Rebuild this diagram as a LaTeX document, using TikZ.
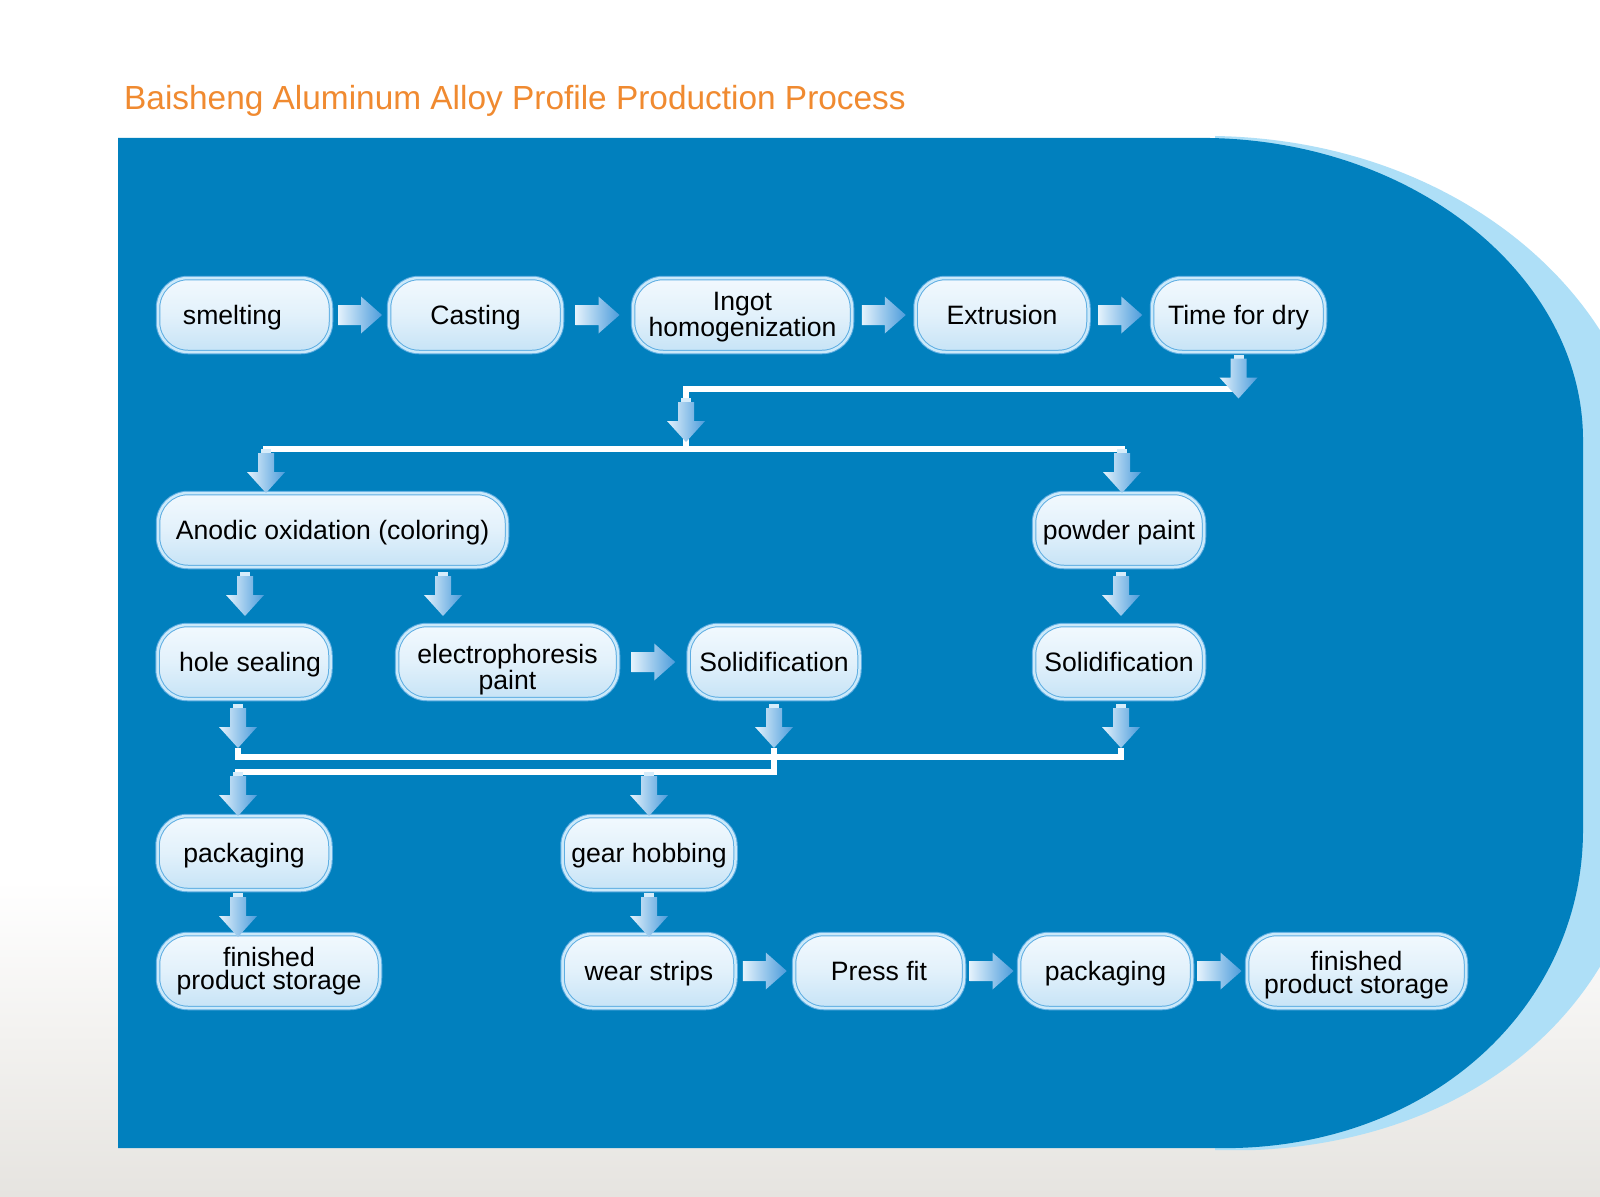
\documentclass[tikz,border=0pt]{standalone}
\usepackage{fontspec}
\setmainfont{Liberation Sans}
\usetikzlibrary{calc,shadings}

\definecolor{panel}{HTML}{0180BE}
\definecolor{panellt}{HTML}{AEDFF7}
\definecolor{titleor}{HTML}{F08A30}
\definecolor{boxout}{HTML}{5FAEE2}
\definecolor{boxrim}{HTML}{CBE9FA}
\definecolor{boxtop}{HTML}{F2F9FE}
\definecolor{boxmid}{HTML}{E2F1FB}
\definecolor{boxbot}{HTML}{C6E3F6}
\definecolor{arrL}{HTML}{E4F2FC}
\definecolor{arrR}{HTML}{4C9CDB}
\definecolor{arrstub}{HTML}{D6ECFA}
\definecolor{bggrey}{HTML}{E6E4E0}

\begin{document}
\begin{tikzpicture}[x=1pt,y=-1pt,
  box/.style={rounded corners=30pt, minimum height=74pt, minimum width=173pt,
    inner sep=0pt, align=center, draw=boxout, line width=1pt, double=boxrim,
    double distance=2.5pt, top color=boxtop, bottom color=boxbot, middle color=boxmid,
    font=\fontsize{26.6}{23}\selectfont, text=black, text height=19pt, text depth=0pt},
  wline/.style={draw=white, line width=6pt, line join=miter},
  harrow/.pic={
    \shade[left color=arrL, right color=arrR]
      (-22,-10) -- (1,-10) -- (1,-18.5) -- (22,0) -- (1,18.5) -- (1,10) -- (-22,10) -- cycle;
  },
  darrow/.pic={
    \fill[arrstub] (-5,0) rectangle (5,5);
    \shade[left color=arrL, right color=arrR]
      (-8,4) -- (8,4) -- (8,23) -- (19,23) -- (0,44) -- (-19,23) -- (-8,23) -- cycle;
  }
]
\useasboundingbox (0,0) rectangle (1600,1196);
\begin{scope}
  \clip (0,0) rectangle (1600,1196);
  \fill[white] (0,0) rectangle (1600,1196);
  \shade[top color=white, bottom color=bggrey] (0,880) rectangle (1600,1196);
  \fill[panellt] (1215,136) .. controls (1460,140) and (1640,300) .. (1650,480)
     -- (1650,800) .. controls (1640,1000) and (1480,1140) .. (1255,1150) -- (1215,1150) -- cycle;
  \fill[panel] (118,138) -- (1210,138) .. controls (1420,142) and (1583,280) .. (1583,440)
     -- (1583,830) .. controls (1583,1000) and (1440,1143) .. (1235,1148) -- (118,1148) -- cycle;
\end{scope}

\node[anchor=base west, text=titleor, font=\fontsize{33.4}{36}\selectfont, inner sep=0pt]
  (title) at (124,110) {Baisheng Aluminum Alloy Profile Production Process};

% row 1
\node[box] (smelt) at (244.5,315) {\hspace*{-24pt}smelting};
\node[box] (cast) at (475.5,315) {Casting};
\node[box, minimum width=219pt, text height=43pt] (ingot) at (742.5,315) {Ingot\\homogenization};
\node[box] (extr) at (1002,315) {Extrusion};
\node[box] (tdry) at (1238.5,315) {Time for dry};
% row 2
\node[box, minimum width=349pt] (anod) at (332.5,530) {Anodic oxidation (coloring)};
\node[box, minimum width=170pt] (powd) at (1119,530) {powder paint};
% row 3
\node[box] (hole) at (244,662) {\hspace*{12pt}hole sealing};
\node[box, minimum width=221pt, text height=55pt] (elec) at (507.5,662) {electrophoresis\\paint};
\node[box, minimum width=171pt] (soli) at (774,662) {Solidification};
\node[box, minimum width=170pt] (solii) at (1119,662) {Solidification};
% row 4
\node[box] (packi) at (244,853) {packaging};
\node[box] (gear) at (649,853) {gear hobbing};
% row 5
\node[box, minimum width=222pt, text height=37pt] (fini) at (269,971) {finished\\product storage};
\node[box] (wear) at (649,971) {wear strips};
\node[box, minimum width=170pt] (press) at (879,971) {Press fit};
\node[box] (packii) at (1105.5,971) {packaging};
\node[box, minimum width=219pt, text height=45pt] (finii) at (1356.5,971) {finished\\product storage};

% horizontal arrows
\pic at ($(smelt.east)!.5!(cast.west)$) {harrow};
\pic at ($(cast.east)!.5!(ingot.west)$) {harrow};
\pic at ($(ingot.east)!.5!(extr.west)$) {harrow};
\pic at ($(extr.east)!.5!(tdry.west)$) {harrow};
\pic at ($(elec.east)!.5!(soli.west)$) {harrow};
\pic at ($(wear.east)!.5!(press.west)$) {harrow};
\pic at ($(press.east)!.5!(packii.west)$) {harrow};
\pic at ($(packii.east)!.5!(finii.west)$) {harrow};

% junction coordinates
\coordinate (ja) at (1238,389);
\coordinate (jb) at (686,389);
\coordinate (jc) at (686,449);
\coordinate (jd) at (266,449);
\coordinate (je) at (1122,449);
\coordinate (jf) at (238,757);
\coordinate (jg) at (1121,757);
\coordinate (jh) at (774,757);
\coordinate (ji) at (774,772);
\coordinate (jj) at (238,772);
\coordinate (jk) at (649,772);

% white connector lines
\draw[wline] (ja) -- (jb) -- (jc);
\draw[wline] ($(jd)+(0,4)$) -- (jd) -- (je) -- ($(je)+(0,4)$);
\draw[wline] ($(jf)+(0,-9)$) -- (jf) -- (jg) -- ($(jg)+(0,-9)$);
\draw[wline] ($(jh)+(0,-9)$) -- (jh) -- (ji) -- (jj) -- ($(jj)+(0,4)$);
\draw[wline] (jk) -- ($(jk)+(0,4)$);

% down arrows
\pic at ($(tdry.south)+(0,2)$) {darrow};
\pic at (686,398) {darrow};
\pic at (jd) {darrow};
\pic at (je) {darrow};
\pic at (245,572) {darrow};
\pic at (443,572) {darrow};
\pic at (1121,572) {darrow};
\pic at (238,704) {darrow};
\pic at (774,704) {darrow};
\pic at (1121,704) {darrow};
\pic at (jj) {darrow};
\pic at (jk) {darrow};
\pic at (238,893) {darrow};
\pic at (649,893) {darrow};
\end{tikzpicture}
\end{document}
